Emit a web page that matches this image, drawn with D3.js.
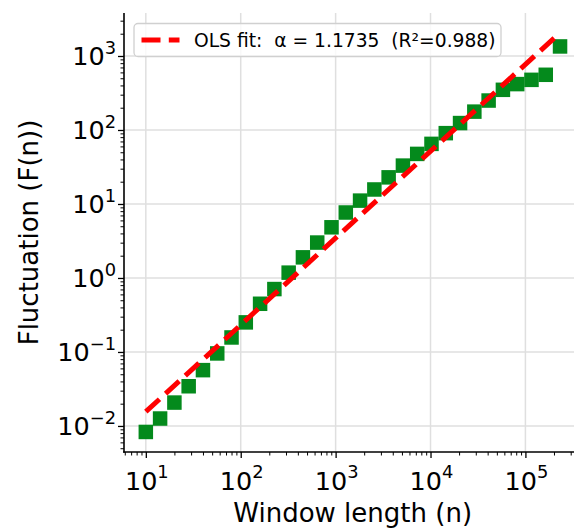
<!DOCTYPE html>
<html><head><meta charset="utf-8">
<script src="https://cdn.jsdelivr.net/npm/d3@7"></script>
<style>
body{margin:0;background:#fff}
svg{display:block;font-family:"DejaVu Sans",sans-serif}
</style>
</head><body>
<svg id="chart" width="574" height="528"></svg>
<script>
// ---- data ----
const windowLengths = [10, 14.14, 20, 28.28, 40, 56.57, 80, 113.1, 160, 226.3, 320, 452.5, 640, 905.1, 1280, 1810, 2560, 3620, 5120, 7241, 10240, 14482, 20480, 28963, 40960, 57926, 81920, 115852, 163840, 231705];
const fluctuation = [0.0083, 0.0126, 0.0207, 0.0344, 0.0568, 0.0955, 0.157, 0.251, 0.448, 0.708, 1.18, 1.90, 3.01, 4.84, 7.67, 11.1, 15.7, 22.9, 33.0, 47.5, 64.9, 90.6, 124, 177, 250, 349, 417, 476, 557, 1346];
const fitAlpha = 1.1735;
const fitLogIntercept = -2.981;
const fitR2 = 0.988;
const xTickValues = [1e1, 1e2, 1e3, 1e4, 1e5];
const xTickExponents = ["1", "2", "3", "4", "5"];
const yTickValues = [1e-2, 1e-1, 1e0, 1e1, 1e2, 1e3];
const yTickExponents = ["\u22122", "\u22121", "0", "1", "2", "3"];
const xLabel = "Window length (n)";
const yLabel = "Fluctuation (F(n))";
const legendLabel = "OLS fit:  \u03b1 = " + fitAlpha.toFixed(4) + "  (R\u00b2=" + fitR2.toFixed(3) + ")";

// ---- layout ----
const pL = 124, pR = 581.4, pT = 13, pB = 452;
const svg = d3.select("#chart");

const x = d3.scaleLog().domain([Math.pow(10, 0.77), Math.pow(10, 5.59)]).range([pL, pR]);
const y = d3.scaleLog().domain([Math.pow(10, -2.352), Math.pow(10, 3.581)]).range([pB, pT]);

function minorTicks(scale) {
  const [a, b] = scale.domain();
  const out = [];
  for (let e = Math.floor(Math.log10(a)) - 1; e <= Math.ceil(Math.log10(b)); e++) {
    for (let m = 2; m <= 9; m++) {
      const v = m * Math.pow(10, e);
      if (v >= a && v <= b) out.push(v);
    }
  }
  return out;
}

// grid
const grid = svg.append("g").attr("stroke", "#dfdfdf").attr("stroke-width", 1.5);
grid.selectAll(".gx").data(xTickValues).join("line")
  .attr("x1", d => x(d)).attr("x2", d => x(d)).attr("y1", pT).attr("y2", pB);
grid.selectAll(".gy").data(yTickValues).join("line")
  .attr("y1", d => y(d)).attr("y2", d => y(d)).attr("x1", pL).attr("x2", pR);

// squares
const sq = 14.5;
svg.append("g").selectAll("rect").data(windowLengths).join("rect")
  .attr("x", (d) => x(d) - sq / 2)
  .attr("y", (d, i) => y(fluctuation[i]) - sq / 2)
  .attr("width", sq).attr("height", sq)
  .attr("fill", "#048a1c");

// fit line
const dash = "18.5 8.25";
const fitPts = [windowLengths[0], windowLengths[windowLengths.length - 1]]
  .map(n => [n, Math.pow(10, fitLogIntercept + fitAlpha * Math.log10(n))]);
svg.append("path")
  .attr("d", d3.line().x(d => x(d[0])).y(d => y(d[1]))(fitPts))
  .attr("fill", "none").attr("stroke", "#ff0000").attr("stroke-width", 5)
  .attr("stroke-dasharray", dash);

// axes
const xAxis = d3.axisBottom(x).tickValues(xTickValues).tickSize(6).tickFormat("");
const xMinor = d3.axisBottom(x).tickValues(minorTicks(x)).tickSize(3.5).tickFormat("");
const yAxis = d3.axisLeft(y).tickValues(yTickValues).tickSize(6).tickFormat("");
const yMinor = d3.axisLeft(y).tickValues(minorTicks(y)).tickSize(3.5).tickFormat("");

function styleAxis(g, w) {
  g.select(".domain").remove();
  g.selectAll(".tick line").attr("stroke", "#000").attr("stroke-width", w);
}
svg.append("g").attr("transform", `translate(0,${pB})`).call(xMinor).call(g => styleAxis(g, 1));
svg.append("g").attr("transform", `translate(0,${pB})`).call(xAxis).call(g => styleAxis(g, 1.3));
svg.append("g").attr("transform", `translate(${pL},0)`).call(yMinor).call(g => styleAxis(g, 1));
svg.append("g").attr("transform", `translate(${pL},0)`).call(yAxis).call(g => styleAxis(g, 1.3));

// spines
svg.append("line").attr("x1", pL).attr("x2", pL).attr("y1", pT).attr("y2", pB + 0.8)
  .attr("stroke", "#000").attr("stroke-width", 1.6);
svg.append("line").attr("x1", pL - 0.8).attr("x2", pR).attr("y1", pB).attr("y2", pB)
  .attr("stroke", "#000").attr("stroke-width", 1.6);

// tick labels
const tickFont = 25.5;
xTickValues.forEach((v, i) => {
  const t = svg.append("text").attr("x", x(v) + 1).attr("y", 489.5)
    .attr("text-anchor", "middle").attr("font-size", tickFont).attr("fill", "#000");
  t.append("tspan").text("10");
  t.append("tspan").attr("dy", -11.5).attr("font-size", tickFont * 0.7).text(xTickExponents[i]);
});
yTickValues.forEach((v, i) => {
  const t = svg.append("text").attr("x", 116).attr("y", y(v) + 9.5)
    .attr("text-anchor", "end").attr("font-size", tickFont).attr("fill", "#000");
  t.append("tspan").text("10");
  t.append("tspan").attr("dy", -11.5).attr("font-size", tickFont * 0.7).text(yTickExponents[i]);
});

// axis labels
svg.append("text").attr("x", (pL + pR) / 2).attr("y", 522)
  .attr("text-anchor", "middle").attr("font-size", 26).attr("fill", "#000").text(xLabel);
svg.append("text").attr("transform", `translate(38,${(pT + pB) / 2}) rotate(-90)`)
  .attr("text-anchor", "middle").attr("font-size", 26).attr("fill", "#000").text(yLabel);

// legend
const lg = svg.append("g");
lg.append("rect").attr("x", 134).attr("y", 23.5).attr("width", 367).attr("height", 33).attr("rx", 4)
  .attr("fill", "#fff").attr("fill-opacity", 0.8).attr("stroke", "#d0d0d0").attr("stroke-width", 1.3);
lg.append("line").attr("x1", 141.5).attr("x2", 179.5).attr("y1", 40).attr("y2", 40)
  .attr("stroke", "#ff0000").attr("stroke-width", 5).attr("stroke-dasharray", "19 8.3");
lg.append("text").attr("x", 194).attr("y", 47).attr("font-size", 18.7).attr("fill", "#000")
  .style("white-space", "pre").text(legendLabel);
</script>
</body></html>
